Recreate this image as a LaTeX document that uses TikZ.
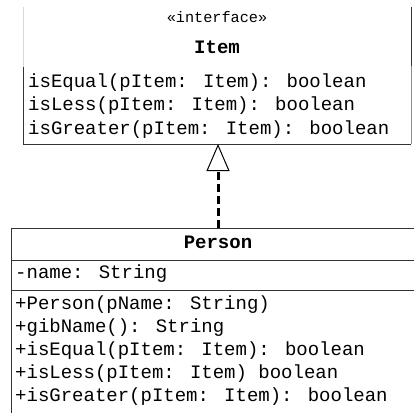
\documentclass[tikz,border=0pt]{standalone}
\usepackage{fontspec}
\newfontfamily\umlfont{Liberation Mono}
\usetikzlibrary{arrows.meta,positioning}
\begin{document}
\begin{tikzpicture}[x=1pt,y=-1pt,
    member/.style={anchor=base west, inner sep=0pt, font=\fontsize{19}{23}\umlfont},
    classname/.style={anchor=base, inner sep=0pt, font=\fontsize{19}{23}\umlfont\bfseries},
    edgedark/.style={draw=black!80, line width=1pt},
    edgelight/.style={draw=black!15, line width=1pt},
    realize/.style={line width=3pt, dash pattern=on 8pt off 4pt,
      -{Triangle[open, length=27pt, width=23pt, line width=1pt]}}]
    \useasboundingbox (0,0) rectangle (414,413);

    % interface Item
    \draw[edgelight] (23,7) -- (23,67);
    \draw[edgedark] (23,67) -- (23,144) -- (411,144);
    \draw[edgedark] (411,7) -- (411,66);
    \draw[draw=black!45, line width=1pt] (411,66) -- (411,144);
    \node (stereo) [anchor=base, inner sep=0pt, font=\fontsize{15.2}{18}\umlfont] at (217,22) {«interface»};
    \node (itemname) [classname] at (217,53) {Item};
    \node (isequal) [member] at (28,87) {isEqual(pItem: Item): boolean};
    \node (isless) [member] at (28,110.5) {isLess(pItem: Item): boolean};
    \node (isgreater) [member] at (28,134) {isGreater(pItem: Item): boolean};

    % class Person
    \draw[edgedark] (414,228) -- (11,228) -- (11,413);
    \draw[edgedark] (11,260) -- (414,260);
    \draw[edgedark] (11,290) -- (414,290);
    \node (personname) [classname] at (218,248) {Person};
    \node (attrname) [member] at (15,278) {-name: String};
    \node (ctor) [member] at (15,309) {+Person(pName: String)};
    \node (gibname) [member] at (15,332) {+gibName(): String};
    \node (pequal) [member] at (15,355) {+isEqual(pItem: Item): boolean};
    \node (pless) [member] at (15,378) {+isLess(pItem: Item) boolean};
    \node (pgreater) [member] at (15,401) {+isGreater(pItem: Item): boolean};

    % realization
    \coordinate (itemfoot) at (218,144);
    \coordinate (personhead) at (218,228);
    \draw[realize] (personhead) -- (itemfoot);
\end{tikzpicture}
\end{document}
